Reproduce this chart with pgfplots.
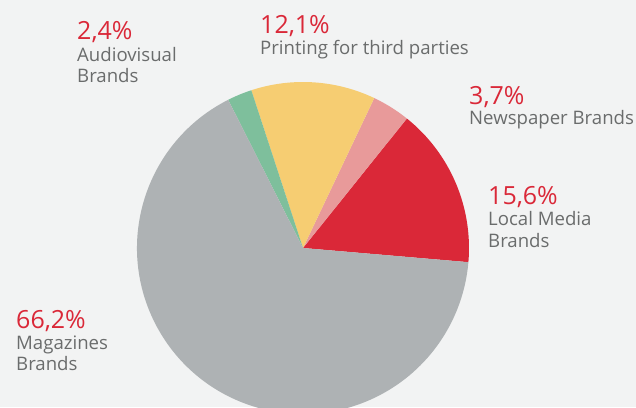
\documentclass[border=0pt]{standalone}
\usepackage{pgfplots}
\pgfplotsset{compat=1.18}
\usepackage{pgfplotstable}
\usepackage{fontspec}
\setmainfont{Open Sans}
\definecolor{bg}{HTML}{F2F3F3}
\definecolor{cred}{HTML}{DA2838}
\definecolor{cpink}{HTML}{E89A9A}
\definecolor{cyellow}{HTML}{F6CD72}
\definecolor{cgreen}{HTML}{7EBF9C}
\definecolor{cgray}{HTML}{AEB2B4}
\definecolor{ctext}{HTML}{6A6C6C}
% shares in percent
\pgfmathsetmacro\pLocal{15.6}
\pgfmathsetmacro\pNews{3.7}
\pgfmathsetmacro\pPrint{12.1}
\pgfmathsetmacro\pAudio{2.4}
\pgfmathsetmacro\pMag{66.2}
\pgfmathsetmacro\aA{-4.9}
\pgfmathsetmacro\aB{\aA+3.6*\pLocal}
\pgfmathsetmacro\aC{\aB+3.6*\pNews}
\pgfmathsetmacro\aD{\aC+3.6*\pPrint}
\pgfmathsetmacro\aE{\aD+3.6*\pAudio}
\pgfmathsetmacro\aF{\aE+3.6*\pMag}
\newcommand\pct[1]{{\fontsize{25}{28}\selectfont\color{cred}#1}}
\begin{document}
\begin{tikzpicture}
\begin{axis}[
  scale only axis, width=636pt, height=407pt,
  xmin=0, xmax=636, ymin=0, ymax=407,
  hide axis, clip=true,
  axis background/.style={fill=bg},
]
\addplot[draw=none] coordinates {(0,0) (636,407)};
\fill[cred] (axis cs:303,159) -- ++(\aA:166pt) arc[start angle=\aA, end angle=\aB, radius=166pt] -- cycle;
\fill[cpink] (axis cs:303,159) -- ++(\aB:166pt) arc[start angle=\aB, end angle=\aC, radius=166pt] -- cycle;
\fill[cyellow] (axis cs:303,159) -- ++(\aC:166pt) arc[start angle=\aC, end angle=\aD, radius=166pt] -- cycle;
\fill[cgreen] (axis cs:303,159) -- ++(\aD:166pt) arc[start angle=\aD, end angle=\aE, radius=166pt] -- cycle;
\fill[cgray] (axis cs:303,159) -- ++(\aE:166pt) arc[start angle=\aE, end angle=\aF, radius=166pt] -- cycle;
\begin{scope}[every node/.style={anchor=base west, inner sep=0pt, text=ctext, font=\fontsize{18.6}{21}\selectfont}]
\node at (axis cs:77,367) {\pct{2,4\%}};
\node at (axis cs:77,345) {Audiovisual};
\node at (axis cs:77,324) {Brands};
\node at (axis cs:260,373) {\pct{12,1\%}};
\node at (axis cs:260,352) {Printing for third parties};
\node at (axis cs:469,302) {\pct{3,7\%}};
\node at (axis cs:469,282) {Newspaper Brands};
\node at (axis cs:488,202) {\pct{15,6\%}};
\node at (axis cs:488,181) {Local Media};
\node at (axis cs:488,160) {Brands};
\node at (axis cs:16,79) {\pct{66,2\%}};
\node at (axis cs:16,58) {Magazines};
\node at (axis cs:16,37) {Brands};
\end{scope}
\end{axis}
\end{tikzpicture}
\end{document}
